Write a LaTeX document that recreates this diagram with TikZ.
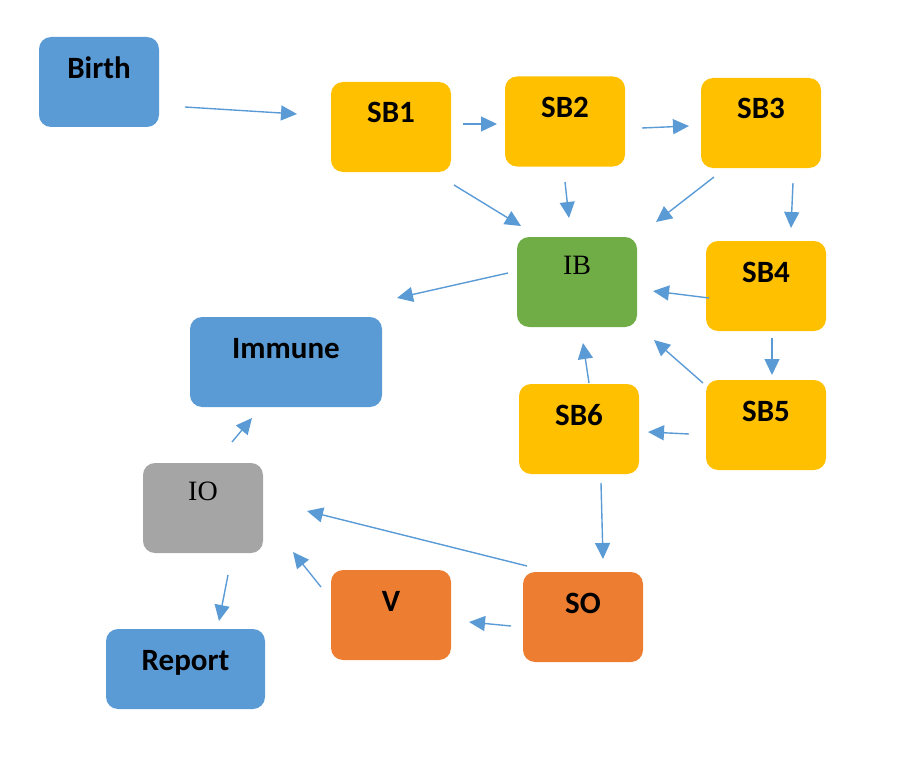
\documentclass[tikz,border=0pt]{standalone}
\usepackage{fontspec}
\setmainfont{Liberation Serif}
\newfontfamily\boxfont{Carlito}
\usetikzlibrary{arrows.meta}
\definecolor{cblue}{HTML}{5B9BD5}
\definecolor{cgold}{HTML}{FFC000}
\definecolor{cgreen}{HTML}{70AD47}
\definecolor{cgray}{HTML}{A5A5A5}
\definecolor{corange}{HTML}{ED7D31}
\definecolor{carrow}{HTML}{5B9BD5}
\tikzset{
  box/.style={rounded corners=12pt, inner sep=0pt, minimum width=120pt, minimum height=90pt,
    text height=41pt, text depth=49pt, font=\boxfont\bfseries\fontsize{31}{32}\selectfont, text=black},
  serifbox/.style={box, text height=37pt, text depth=53pt, font=\rmfamily\fontsize{28}{30}\selectfont},
  conn/.style={draw=carrow, line width=1.4pt, -{Triangle[length=16pt,width=15pt]}},
}
\begin{document}
\begin{tikzpicture}[x=1pt,y=-1pt]
\useasboundingbox (0,0) rectangle (914,768);
% boxes
\node[box, fill=cblue] (birth) at (99,82) {Birth};
\node[box, fill=cgold] (sb1) at (391,127) {SB1};
\node[box, fill=cgold] (sb2) at (565,121.5) {SB2};
\node[box, fill=cgold] (sb3) at (761,123) {SB3};
\node[serifbox, fill=cgreen] (ib) at (577,282) {IB};
\node[box, fill=cgold] (sb4) at (766,286) {SB4};
\node[box, fill=cblue, minimum width=192pt] (immune) at (286,362) {Immune};
\node[box, fill=cgold] (sb6) at (579,429) {SB6};
\node[box, fill=cgold] (sb5) at (766,425) {SB5};
\node[serifbox, fill=cgray] (io) at (203,508) {IO};
\node[box, fill=corange] (v) at (391,615) {V};
\node[box, fill=corange] (so) at (583,617) {SO};
\node[box, fill=cblue, minimum width=159pt, minimum height=80pt, text height=41pt, text depth=39pt] (report) at (185.5,669) {Report};
% connector ends
\coordinate (birthA) at (185,107); \coordinate (sb1B) at (297,114);
\coordinate (sb1A) at (463,124); \coordinate (sb2B) at (497,124);
\coordinate (sb2A) at (642,128); \coordinate (sb3B) at (689,126);
\coordinate (sb1C) at (454,185); \coordinate (ibB1) at (521,226);
\coordinate (sb2C) at (565,182); \coordinate (ibB2) at (569,218);
\coordinate (sb3C) at (714,177); \coordinate (ibB3) at (656,222);
\coordinate (sb3D) at (793,183); \coordinate (sb4B) at (791,228);
\coordinate (ibA) at (508,273); \coordinate (immuneB) at (397,298);
\coordinate (sb4A) at (709,298); \coordinate (ibB4) at (653,291);
\coordinate (sb4C) at (772,338); \coordinate (sb5B) at (772,375);
\coordinate (sb5A) at (703,383); \coordinate (ibB5) at (654,340);
\coordinate (sb6A) at (589,383); \coordinate (ibB6) at (583,343);
\coordinate (sb5C) at (689,434); \coordinate (sb6B) at (648,432);
\coordinate (sb6C) at (601,483); \coordinate (soB) at (603,559);
\coordinate (soA) at (527,566); \coordinate (ioB1) at (307,511);
\coordinate (soC) at (511,626); \coordinate (vB) at (469,622);
\coordinate (vA) at (321,587); \coordinate (ioB2) at (293,552);
\coordinate (ioA) at (232,442); \coordinate (immuneB2) at (252,418);
\coordinate (ioC) at (228,575); \coordinate (reportB) at (219,621);
% connectors
\draw[conn] (birthA) -- (sb1B);
\draw[conn] (sb1A) -- (sb2B);
\draw[conn] (sb2A) -- (sb3B);
\draw[conn] (sb1C) -- (ibB1);
\draw[conn] (sb2C) -- (ibB2);
\draw[conn] (sb3C) -- (ibB3);
\draw[conn] (sb3D) -- (sb4B);
\draw[conn] (ibA) -- (immuneB);
\draw[conn] (sb4A) -- (ibB4);
\draw[conn] (sb4C) -- (sb5B);
\draw[conn] (sb5A) -- (ibB5);
\draw[conn] (sb6A) -- (ibB6);
\draw[conn] (sb5C) -- (sb6B);
\draw[conn] (sb6C) -- (soB);
\draw[conn] (soA) -- (ioB1);
\draw[conn] (soC) -- (vB);
\draw[conn] (vA) -- (ioB2);
\draw[conn] (ioA) -- (immuneB2);
\draw[conn] (ioC) -- (reportB);
\end{tikzpicture}
\end{document}
